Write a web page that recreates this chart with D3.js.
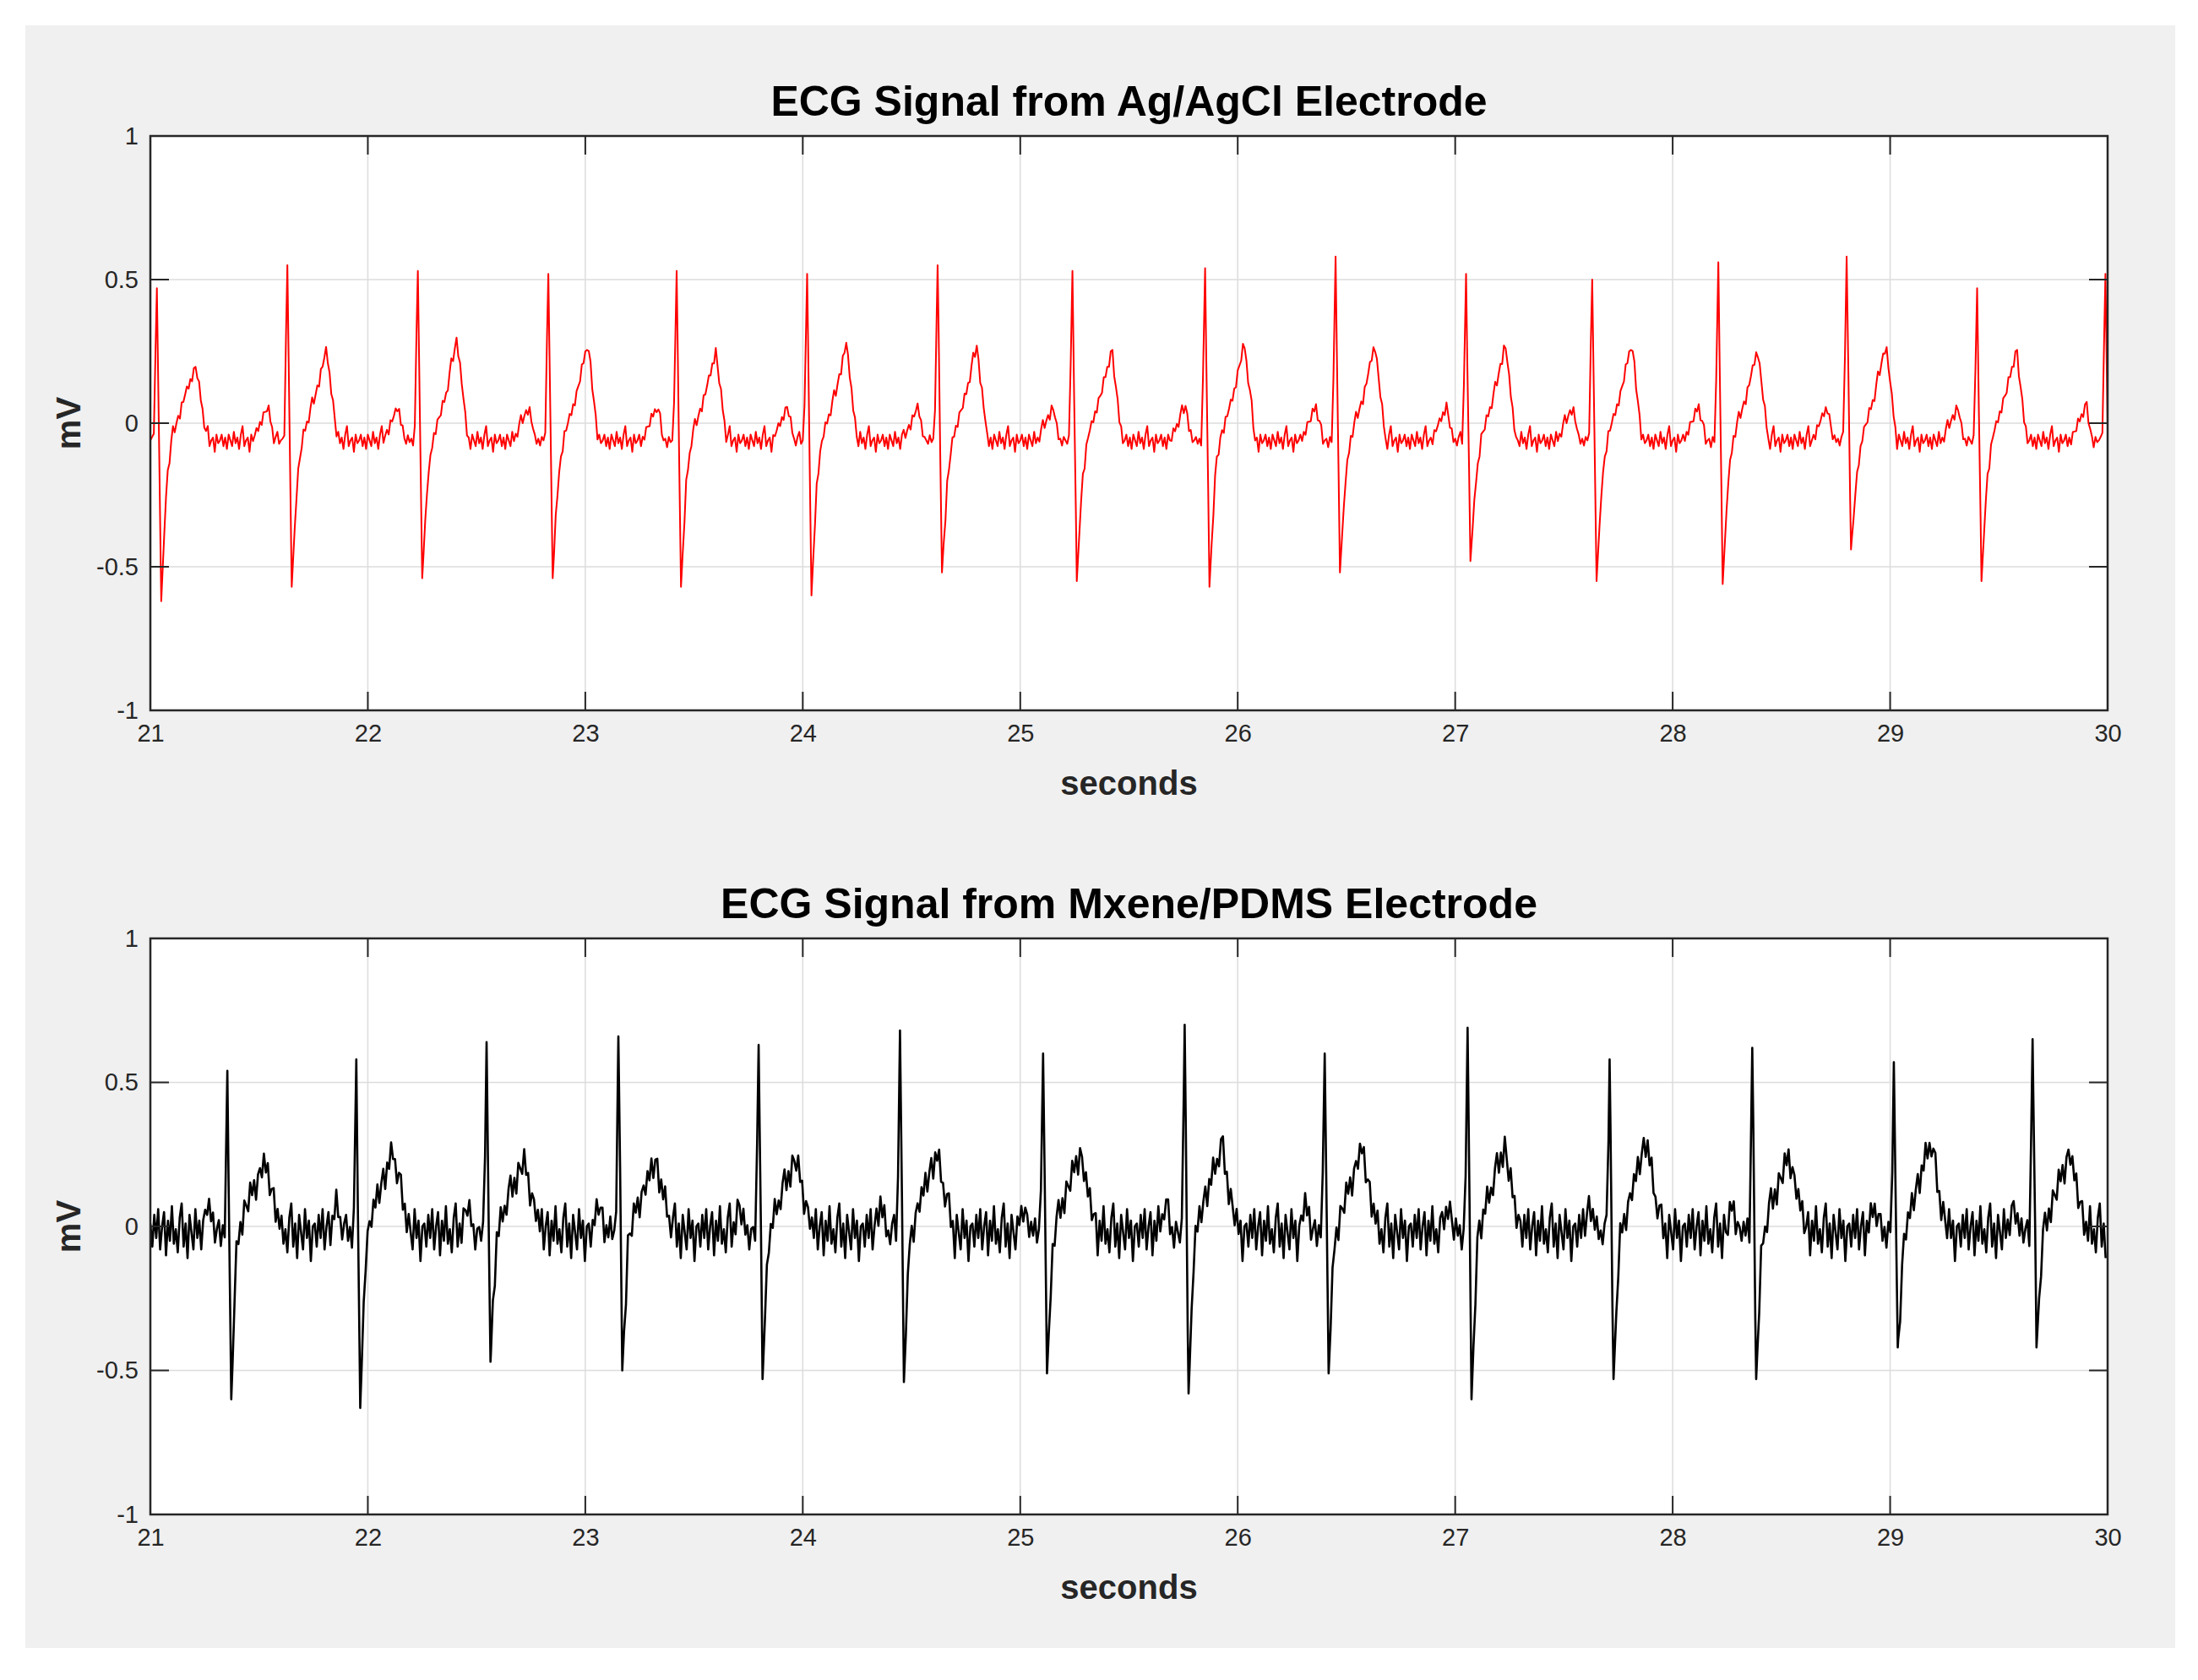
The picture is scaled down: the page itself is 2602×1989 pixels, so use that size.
<!DOCTYPE html>
<html>
<head>
<meta charset="utf-8">
<script src="https://cdn.jsdelivr.net/npm/d3@7"></script>
<style>
  body { margin: 0; background: #fff; }
  text { font-family: "Liberation Sans", Arial, sans-serif; }
</style>
</head>
<body>
<svg id="chart" width="2602" height="1989"></svg>
<script>
'use strict';

// tick labels
const xTicks = [21, 22, 23, 24, 25, 26, 27, 28, 29, 30];
const yTicks = [-1, -0.5, 0, 0.5, 1];

// Ag/AgCl electrode beats
const agR = [21.03, 21.63, 22.23, 22.83, 23.42, 24.02, 24.62, 25.24, 25.85, 26.45, 27.05, 27.63, 28.21, 28.80, 29.40, 29.99];
const agRAmp = [0.47, 0.55, 0.53, 0.52, 0.53, 0.52, 0.55, 0.53, 0.54, 0.58, 0.52, 0.50, 0.56, 0.58, 0.47, 0.52];
const agSAmp = [-0.62, -0.57, -0.54, -0.54, -0.57, -0.60, -0.52, -0.55, -0.57, -0.52, -0.48, -0.55, -0.56, -0.44, -0.55, -0.57];
const agTAmp = [0.20, 0.26, 0.30, 0.28, 0.25, 0.28, 0.27, 0.25, 0.28, 0.28, 0.28, 0.28, 0.26, 0.28, 0.25, 0.25];

// Mxene/PDMS electrode beats
const mxR = [21.354, 21.947, 22.546, 23.152, 23.797, 24.447, 25.105, 25.756, 26.40, 27.057, 27.71, 28.366, 29.017, 29.655];
const mxRAmp = [0.54, 0.58, 0.64, 0.66, 0.63, 0.68, 0.60, 0.70, 0.60, 0.69, 0.58, 0.62, 0.57, 0.65];
const mxSAmp = [-0.60, -0.63, -0.47, -0.50, -0.53, -0.54, -0.51, -0.58, -0.51, -0.60, -0.53, -0.53, -0.42, -0.42];
const mxTAmp = [0.22, 0.26, 0.23, 0.22, 0.24, 0.25, 0.26, 0.28, 0.27, 0.28, 0.30, 0.25, 0.30, 0.26];

// beat shape: time offset from R (s) and which level it takes
const agShape = [[-0.16, 'b'], [-0.09, 'p'], [-0.06, 'b'], [-0.015, 'b'], [0, 'R'], [0.02, 'S'], [0.045, -0.2], [0.07, -0.05], [0.13, 0.1], [0.18, 'T'], [0.23, 'b']];
const mxShape = [[-0.12, 'b'], [-0.09, 'p'], [-0.06, 'b'], [-0.012, 'b'], [0, 'R'], [0.018, 'S'], [0.045, -0.05], [0.08, 0.06], [0.17, 'T'], [0.21, 0.1], [0.25, 'b']];
const sOffset = { ag: 0.02, mx: 0.018 };

// baseline jitter samples (mV)
const agNoise = [0, 0.02, -0.02, 0.01, -0.03, 0.02, 0, -0.02, 0.03, -0.01, 0.01, -0.03, 0.02, 0.05, -0.02, 0, 0.01, -0.04, 0.02, -0.01];
const mxNoise = [0.03, -0.05, 0.06, -0.02, 0.08, -0.06, 0.02, 0.07, -0.08, 0.04, -0.03, 0.09, -0.04, 0.01, -0.07, 0.05, 0.1, -0.05, 0.03, -0.09, 0.06, 0, -0.06, 0.08, -0.02, 0.04, -0.1, 0.02];

function buildSignal(R, RA, SA, TA, shape, sOff, noise, base, pAmp, step) {
  const pts = [];
  let k = 0;
  for (let t = 21; t <= 30.0001; t += step, k++) {
    let v = null;
    for (let i = 0; i < R.length; i++) {
      const dt = t - R[i];
      if (dt < shape[0][0] || dt > shape[shape.length - 1][0]) continue;
      const lv = s => s === 'R' ? RA[i] : s === 'S' ? SA[i] : s === 'T' ? TA[i] : s === 'p' ? pAmp : s === 'b' ? base : s;
      for (let j = 0; j < shape.length - 1; j++) {
        const a = shape[j], b = shape[j + 1];
        if (dt >= a[0] && dt <= b[0]) {
          const f = (dt - a[0]) / (b[0] - a[0]);
          v = lv(a[1]) + f * (lv(b[1]) - lv(a[1]));
          break;
        }
      }
    }
    const n = noise[k % noise.length];
    if (v === null) v = base + n;
    else if (Math.abs(v) < 0.35) v += n * 0.6;
    pts.push([t, v]);
  }
  // keep R and S peaks exact
  R.forEach((r, i) => { pts.push([r, RA[i]]); pts.push([r + sOff, SA[i]]); });
  pts.sort((a, b) => a[0] - b[0]);
  return pts.filter(d => d[0] <= 30);
}

const agData = buildSignal(agR, agRAmp, agSAmp, agTAmp, agShape, sOffset.ag, agNoise, -0.06, 0.06, 0.008);
const mxData = buildSignal(mxR, mxRAmp, mxSAmp, mxTAmp, mxShape, sOffset.mx, mxNoise, -0.02, 0.08, 0.009);

const svg = d3.select('#chart');
svg.append('rect').attr('x', 30).attr('y', 30).attr('width', 2545).attr('height', 1921).attr('fill', '#f0f0f0');

const left = 178, right = 2495;
const panels = [
  { title: 'ECG Signal from Ag/AgCl Electrode', top: 161, bottom: 841, data: agData, color: '#ff0000', width: 2 },
  { title: 'ECG Signal from Mxene/PDMS Electrode', top: 1111, bottom: 1793, data: mxData, color: '#000000', width: 2.6 },
];

panels.forEach(p => {
  const x = d3.scaleLinear().domain([21, 30]).range([left, right]);
  const y = d3.scaleLinear().domain([-1, 1]).range([p.bottom, p.top]);
  const g = svg.append('g');
  g.append('rect').attr('x', left).attr('y', p.top).attr('width', right - left).attr('height', p.bottom - p.top).attr('fill', '#fff');

  // grid
  g.selectAll('.gx').data(xTicks).join('line')
    .attr('x1', d => x(d)).attr('x2', d => x(d)).attr('y1', p.top).attr('y2', p.bottom)
    .attr('stroke', '#dcdcdc').attr('stroke-width', 1.5);
  g.selectAll('.gy').data(yTicks).join('line')
    .attr('y1', d => y(d)).attr('y2', d => y(d)).attr('x1', left).attr('x2', right)
    .attr('stroke', '#dcdcdc').attr('stroke-width', 1.5);

  const clipId = 'clip' + p.top;
  svg.append('clipPath').attr('id', clipId).append('rect')
    .attr('x', left).attr('y', p.top).attr('width', right - left).attr('height', p.bottom - p.top);

  g.append('path').datum(p.data)
    .attr('clip-path', `url(#${clipId})`)
    .attr('fill', 'none').attr('stroke', p.color).attr('stroke-width', p.width)
    .attr('stroke-linejoin', 'round')
    .attr('d', d3.line().x(d => x(d[0])).y(d => y(d[1])));

  const xAxis = d3.axisBottom(x).tickValues(xTicks).tickSize(0).tickPadding(16).tickFormat(d3.format('d'));
  const yAxis = d3.axisLeft(y).tickValues(yTicks).tickSize(0).tickPadding(14).tickFormat(d => d === 0 ? '0' : d);
  const ax = g.append('g').attr('transform', `translate(0,${p.bottom})`).call(xAxis);
  const ay = g.append('g').attr('transform', `translate(${left},0)`).call(yAxis);
  [ax, ay].forEach(a => {
    a.select('.domain').remove();
    a.selectAll('text').attr('font-size', 29).attr('fill', '#262626').style('font-family', '"Liberation Sans", Arial, sans-serif');
  });

  // inner tick marks on all four sides
  xTicks.forEach(t => {
    g.append('line').attr('x1', x(t)).attr('x2', x(t)).attr('y1', p.bottom).attr('y2', p.bottom - 22).attr('stroke', '#262626').attr('stroke-width', 2);
    g.append('line').attr('x1', x(t)).attr('x2', x(t)).attr('y1', p.top).attr('y2', p.top + 22).attr('stroke', '#262626').attr('stroke-width', 2);
  });
  yTicks.forEach(t => {
    g.append('line').attr('x1', left).attr('x2', left + 22).attr('y1', y(t)).attr('y2', y(t)).attr('stroke', '#262626').attr('stroke-width', 2);
    g.append('line').attr('x1', right).attr('x2', right - 22).attr('y1', y(t)).attr('y2', y(t)).attr('stroke', '#262626').attr('stroke-width', 2);
  });

  g.append('rect').attr('x', left).attr('y', p.top).attr('width', right - left).attr('height', p.bottom - p.top)
    .attr('fill', 'none').attr('stroke', '#262626').attr('stroke-width', 2.5);

  g.append('text').attr('x', (left + right) / 2).attr('y', p.top - 24).attr('text-anchor', 'middle')
    .attr('font-size', 50).attr('font-weight', 'bold').attr('fill', '#000').text(p.title);
  g.append('text').attr('x', (left + right) / 2).attr('y', p.bottom + 100).attr('text-anchor', 'middle')
    .attr('font-size', 40).attr('font-weight', 'bold').attr('fill', '#262626').text('seconds');
  g.append('text').attr('transform', `translate(95,${(p.top + p.bottom) / 2}) rotate(-90)`).attr('text-anchor', 'middle')
    .attr('font-size', 40).attr('font-weight', 'bold').attr('fill', '#262626').text('mV');
});
</script>
</body>
</html>
